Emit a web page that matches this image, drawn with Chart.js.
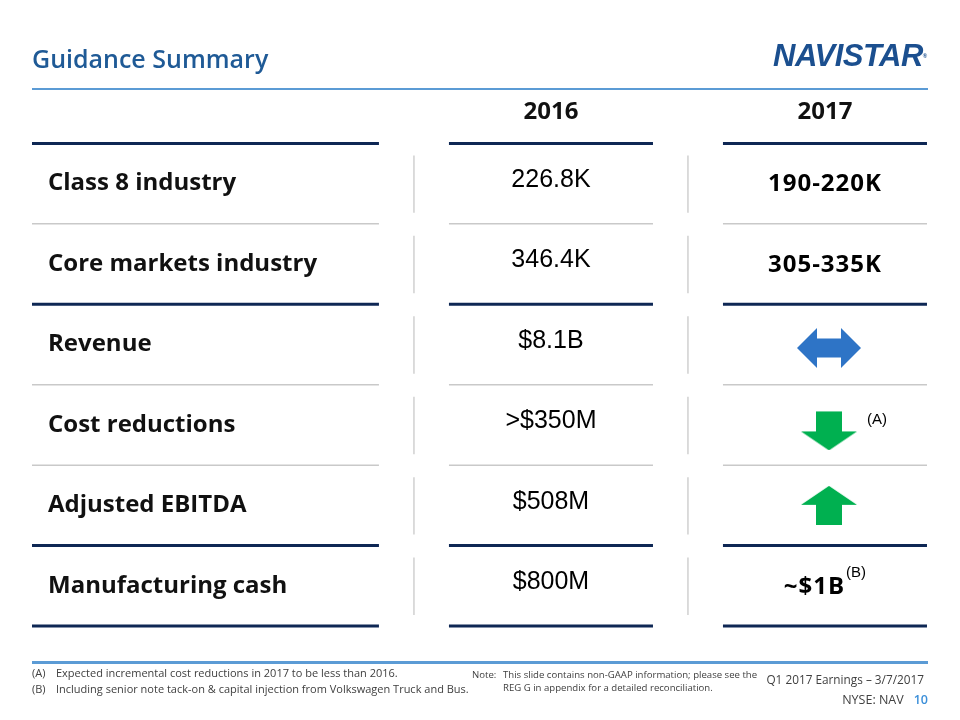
<!DOCTYPE html>
<html>
<head>
<meta charset="utf-8">
<title>Guidance Summary</title>
<script src="https://cdn.jsdelivr.net/npm/chart.js@4.4.1/dist/chart.umd.min.js"></script>
<style>
  html, body { margin: 0; padding: 0; background: #fff; }
  #slide { position: relative; width: 960px; height: 720px; overflow: hidden; font-family: 'Open Sans', sans-serif; }
  #guidance { position: absolute; left: 0; top: 0; }
  .title { position: absolute; left: 32px; top: 40px; font-size: 25px; font-weight: 600; color: #1f5a96; line-height: 36px; }
  .logo { position: absolute; left: 773px; top: 38px; font-family: 'Liberation Sans', Arial, sans-serif; font-size: 31px; font-weight: bold; font-style: italic; color: #1b4f8f; line-height: 36px; letter-spacing: -0.5px; }
  .logo span { font-size: 6px; vertical-align: top; font-style: normal; }
  .rule { position: absolute; left: 32px; width: 896px; height: 2px; background: #5b9bd5; }
  .rule.top { top: 88px; }
  .rule.bottom { top: 661px; height: 3px; }
  .notes { position: absolute; left: 32px; top: 665px; font-size: 11px; color: #404040; line-height: 16px; white-space: nowrap; }
  .notes div { position: relative; padding-left: 24px; }
  .notes b { position: absolute; left: 0; font-weight: normal; }
  .gaap { position: absolute; left: 472px; top: 668px; font-size: 9.6px; color: #404040; line-height: 13px; white-space: nowrap; }
  .gaap div { padding-left: 31px; position: relative; }
  .gaap b { position: absolute; left: 0; font-weight: normal; }
  .event { position: absolute; right: 36px; top: 670px; font-size: 11.8px; color: #404040; line-height: 18px; white-space: nowrap; }
  .ticker { position: absolute; right: 32px; top: 691px; font-size: 12.5px; color: #404040; line-height: 18px; white-space: nowrap; }
  .ticker span { color: #3b8fd9; margin-left: 10px; font-weight: 600; }
</style>
</head>
<body>
<div id="slide">
  <canvas id="guidance" width="960" height="720"></canvas>
  <div class="title">Guidance Summary</div>
  <div class="logo">NAVISTAR<span>®</span></div>
  <div class="rule top"></div>
  <div class="rule bottom"></div>
  <div class="notes">
    <div><b>(A)</b>Expected incremental cost reductions in 2017 to be less than 2016.</div>
    <div><b>(B)</b>Including senior note tack-on &amp; capital injection from Volkswagen Truck and Bus.</div>
  </div>
  <div class="gaap">
    <div><b>Note:</b>This slide contains non-GAAP information; please see the</div>
    <div>REG G in appendix for a detailed reconciliation.</div>
  </div>
  <div class="event">Q1 2017 Earnings – 3/7/2017</div>
  <div class="ticker">NYSE: NAV<span>10</span></div>
</div>

<script>
// ---- data ----
const rowLabels = ['Class 8 industry', 'Core markets industry', 'Revenue', 'Cost reductions', 'Adjusted EBITDA', 'Manufacturing cash'];
const years = ['2016', '2017'];
const values2016 = ['226.8K', '346.4K', '$8.1B', '>$350M', '$508M', '$800M'];
const values2017 = ['190-220K', '305-335K', 'flat', 'down', 'up', '~$1B'];
const refs2017 = ['', '', '', '(A)', '', '(B)'];

// ---- layout (column geometry in x-scale units, 1 unit = distance between year columns) ----
const COL_HALF = 0.3723;     // half width of a year column's rules
const COL_GAP = 0.2555;      // gap between columns
const HEAVY_RULES = [0, 2, 5, 6];

// ---- arrow glyphs used as point styles ----
function makeArrow(kind) {
  const c = document.createElement('canvas');
  const g = c.getContext('2d');
  if (kind === 'flat') {
    c.width = 72; c.height = 47;
    g.translate(8, 7);
    g.fillStyle = '#2e74c6';
    g.beginPath();
    g.moveTo(0, 20); g.lineTo(20, 0); g.lineTo(20, 10.5); g.lineTo(44, 10.5); g.lineTo(44, 0);
    g.lineTo(64, 20); g.lineTo(44, 40); g.lineTo(44, 29.5); g.lineTo(20, 29.5); g.lineTo(20, 40);
    g.closePath(); g.fill();
  } else {
    c.width = 64; c.height = kind === 'down' ? 51 : 39;
    g.translate(8, kind === 'down' ? 12 : 0);
    g.fillStyle = '#00b050';
    g.beginPath();
    if (kind === 'down') {
      g.moveTo(15, 0); g.lineTo(41, 0); g.lineTo(41, 20); g.lineTo(56, 20);
      g.lineTo(28, 39); g.lineTo(0, 20); g.lineTo(15, 20);
    } else {
      g.moveTo(15, 39); g.lineTo(41, 39); g.lineTo(41, 19); g.lineTo(56, 19);
      g.lineTo(28, 0); g.lineTo(0, 19); g.lineTo(15, 19);
    }
    g.closePath(); g.fill();
  }
  return c;
}
const arrows = { flat: makeArrow('flat'), down: makeArrow('down'), up: makeArrow('up') };

// ---- rules between rows and columns ----
const tableRules = {
  id: 'tableRules',
  beforeDatasetsDraw(chart) {
    const { ctx, chartArea, scales: { x, y } } = chart;
    const spans = [[chartArea.left, x.getPixelForValue(1 - COL_HALF - COL_GAP)]];
    years.forEach((yr, c) => spans.push([x.getPixelForValue(c + 1 - COL_HALF), x.getPixelForValue(c + 1 + COL_HALF)]));

    ctx.save();
    for (let b = 0; b <= rowLabels.length; b++) {
      const py = y.getPixelForValue(b - 0.5);
      const heavy = HEAVY_RULES.includes(b);
      ctx.strokeStyle = heavy ? '#0e2754' : '#c9c9c9';
      ctx.lineWidth = heavy ? 3 : 1.5;
      spans.forEach(([a, z]) => {
        ctx.beginPath(); ctx.moveTo(a, py); ctx.lineTo(z, py); ctx.stroke();
      });
    }
    ctx.strokeStyle = '#d0d0d0';
    ctx.lineWidth = 1.5;
    rowLabels.forEach((r, i) => {
      const top = y.getPixelForValue(i - 0.5) + 12;
      const bot = y.getPixelForValue(i + 0.5) - 11;
      years.forEach((yr, c) => {
        const px = x.getPixelForValue(c + 1 - COL_HALF - COL_GAP / 2);
        ctx.beginPath(); ctx.moveTo(px, top); ctx.lineTo(px, bot); ctx.stroke();
      });
    });
    ctx.restore();
  }
};

// ---- cell texts ----
const cellText = {
  id: 'cellText',
  afterDatasetsDraw(chart) {
    const ctx = chart.ctx;
    ctx.save();
    ctx.textBaseline = 'middle';
    ctx.fillStyle = '#000';

    ctx.textAlign = 'center';
    ctx.font = '25px "Liberation Sans", Arial, sans-serif';
    chart.getDatasetMeta(0).data.forEach((pt, i) => {
      ctx.fillText(values2016[i], pt.x, pt.y - 3.5);
    });

    chart.getDatasetMeta(1).data.forEach((pt, i) => {
      const v = values2017[i];
      const ref = refs2017[i];
      if (arrows[v]) {
        if (ref) {
          ctx.textAlign = 'left';
          ctx.font = '15px "Liberation Sans", Arial, sans-serif';
          ctx.fillText(ref, pt.x + 42, pt.y - 5);
        }
        return;
      }
      ctx.font = 'bold 24px "Open Sans", sans-serif';
      ctx.letterSpacing = '1px';
      const w = ctx.measureText(v).width;
      let rw = 0;
      if (ref) {
        ctx.save();
        ctx.font = '15px "Liberation Sans", Arial, sans-serif';
        ctx.letterSpacing = '0px';
        rw = ctx.measureText(ref).width + 1;
        ctx.restore();
      }
      const left = pt.x - (w + rw) / 2;
      ctx.textAlign = 'left';
      ctx.fillText(v, left, pt.y + 1);
      if (ref) {
        ctx.font = '15px "Liberation Sans", Arial, sans-serif';
        ctx.letterSpacing = '0px';
        ctx.fillText(ref, left + w + 1, pt.y - 13);
      }
      ctx.letterSpacing = '0px';
    });
    ctx.restore();
  }
};

new Chart(document.getElementById('guidance'), {
  type: 'scatter',
  data: {
    datasets: years.map((yr, c) => ({
      label: yr,
      data: rowLabels.map((r) => ({ x: c + 1, y: r })),
      pointRadius: (ctx) => (c === 1 && arrows[values2017[ctx.dataIndex]] ? 20 : 0),
      pointStyle: (ctx) => (c === 1 && arrows[values2017[ctx.dataIndex]]) || 'circle',
      borderWidth: 0
    }))
  },
  options: {
    responsive: false,
    animation: false,
    events: [],
    layout: { padding: { top: 81.6, bottom: 94, left: 0, right: 32 } },
    plugins: { legend: { display: false }, tooltip: { enabled: false } },
    scales: {
      x: {
        type: 'linear',
        position: 'top',
        min: -0.894,
        max: 2.376,
        grid: { display: false, drawTicks: false },
        border: { display: false },
        afterBuildTicks: (axis) => { axis.ticks = years.map((yr, i) => ({ value: i + 1 })); },
        ticks: {
          padding: 16.5,
          color: '#111',
          font: { family: "'Open Sans', sans-serif", size: 24, weight: 'bold' },
          callback: (v) => years[v - 1]
        }
      },
      y: {
        type: 'category',
        labels: rowLabels,
        offset: true,
        grid: { display: false, drawTicks: false },
        border: { display: false },
        ticks: {
          mirror: true,
          padding: 16,
          color: '#111',
          font: { family: "'Open Sans', sans-serif", size: 24, weight: 'bold' }
        }
      }
    }
  },
  plugins: [tableRules, cellText]
});
</script>
</body>
</html>
